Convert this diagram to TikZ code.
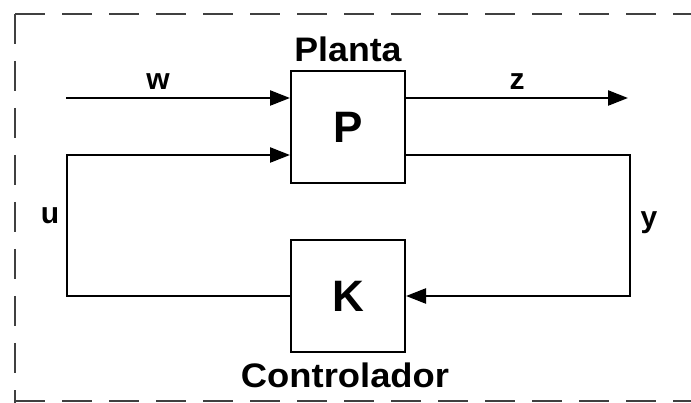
\documentclass[tikz,border=0pt]{standalone}
\usepackage{fontspec}
\setmainfont{Liberation Sans}
\usetikzlibrary{arrows.meta,calc}
\tikzset{
  blockbox/.style={draw=black, line width=2pt, minimum width=114pt, minimum height=112pt, inner sep=0pt, font=\fontsize{44}{48}\selectfont\bfseries},
  sig/.style={line width=2.4pt, draw=black},
  arr/.style={sig, -{Triangle[length=20pt,width=15pt]}},
  lbl/.style={anchor=base, inner sep=0pt, font=\fontsize{30}{32}\selectfont\bfseries},
  title/.style={anchor=base, inner sep=0pt, font=\fontsize{34}{36}\selectfont\bfseries},
  frame/.style={line width=2pt, draw=black!75, dash pattern=on 30pt off 17pt}
}
\begin{document}
\begin{tikzpicture}[x=1pt,y=-1pt]
\useasboundingbox (0,0) rectangle (691,403);
\fill[white] (0,0) rectangle (691,403);
\begin{scope}
\clip (0,0) rectangle (691,403);
\draw[frame] (15,14) -- (720,14);
\draw[frame] (15,14) -- (15,430);
\draw[frame] (15,401) -- (720,401);
\end{scope}
\node[blockbox] (P) at (348,127) {P};
\node[blockbox] (K) at (348,296) {K};
\node[title] (planta) at (348,62) {\scalebox{1.05}[1]{Planta}};
\node[title] (ctrl) at (345,388) {\scalebox{1.07}[1]{Controlador}};
\coordinate (win) at (66,98);
\coordinate (zout) at (628,98);
\coordinate (uin) at (67,155);
\coordinate (ucorner) at (67,296);
\coordinate (ycorner) at (630,155);
\draw[arr] (win) -- (win -| P.west);
\draw[arr] (zout -| P.east) -- (zout);
\draw[arr] (K.west) -- (ucorner) -- (uin) -- (uin -| P.west);
\draw[arr] (ycorner -| P.east) -- (ycorner) -- (ycorner |- K.east) -- (K.east);
\node[lbl] (w) at (158,90) {w};
\node[lbl] (z) at (517,90) {z};
\node[lbl] (u) at (50,224) {u};
\node[lbl] (y) at (649,228) {y};
\end{tikzpicture}
\end{document}
